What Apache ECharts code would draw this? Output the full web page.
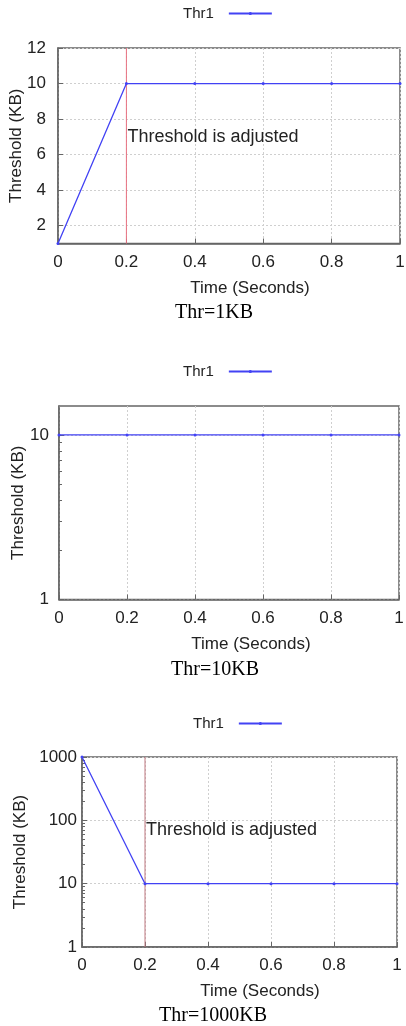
<!DOCTYPE html>
<html><head><meta charset="utf-8">
<script src="https://cdn.jsdelivr.net/npm/echarts@6/dist/echarts.min.js"></script>
<style>html,body{margin:0;padding:0;background:#fff}#c{width:406px;height:1026px}</style>
</head><body><div id="c"></div>
<script>
const timeValues = [0, 0.2, 0.4, 0.6, 0.8, 1];
const thr1KB = [1, 10, 10, 10, 10, 10];
const thr10KB = [10, 10, 10, 10, 10, 10];
const thr1000KB = [1000, 10, 10, 10, 10, 10];
const yTicks1 = [2, 4, 6, 8, 10, 12];
const yTicks2 = [1, 10];
const yTicks3 = [1, 10, 100, 1000];
const yMinor2 = [2, 3, 4, 5, 6, 7, 8, 9];
const yMinor3 = [2, 3, 4, 5, 6, 7, 8, 9, 20, 30, 40, 50, 60, 70, 80, 90, 200, 300, 400, 500, 600, 700, 800, 900];
const adjustTime = 0.2;
const annotationY = [7, null, 70];
const captions = ['Thr=1KB', 'Thr=10KB', 'Thr=1000KB'];
const seriesName = 'Thr1';
const annotationText = 'Threshold is adjusted';
const xTitle = 'Time (Seconds)';
const yTitle = 'Threshold (KB)';

const SANS = 'Liberation Sans';
const grids = [
  {left: 58, top: 48, width: 342, height: 195.5},
  {left: 59, top: 406, width: 340, height: 193.5},
  {left: 82, top: 757, width: 315, height: 190}
];
const panels = [
  {vals: thr1KB, yType: 'value', yMin: 1, yMax: 12, yTicks: yTicks1, minor: null, legendLeft: 183, legendTop: 6, yNameGap: 33, yLabelMargin: 12, mark: '#e87080', xPad: 42, cap: [214, 313]},
  {vals: thr10KB, yType: 'log', yMin: 1, yMax: 15, yTicks: yTicks2, minor: yMinor2, legendLeft: 183, legendTop: 364, yNameGap: 32, yLabelMargin: 10, mark: null, xPad: 44, cap: [215, 670]},
  {vals: thr1000KB, yType: 'log', yMin: 1, yMax: 1000, yTicks: yTicks3, minor: yMinor3, legendLeft: 193, legendTop: 716, yNameGap: 53, yLabelMargin: 5, mark: '#c07880', xPad: 41, cap: [213, 1016]}
];

const AX = '#666';
const gridLine = {show: true, lineStyle: {color: '#cfcfcf', type: [2, 2], width: 1}};
const yAxes = panels.map((p, i) => ({
  type: p.yType, gridIndex: i, min: p.yMin, max: p.yMax, logBase: 10,
  name: yTitle, nameLocation: 'middle', nameGap: p.yNameGap, nameMoveOverlap: false,
  nameTextStyle: {fontFamily: SANS, fontSize: 17, color: '#222'},
  axisLine: {show: true, lineStyle: {color: AX, width: 1.5}},
  axisTick: {show: true, inside: true, length: 5, lineStyle: {color: AX}, customValues: p.yTicks},
  axisLabel: {fontFamily: SANS, fontSize: 17, color: '#222', margin: p.yLabelMargin, customValues: p.yTicks,
    formatter: v => String(Math.round(v))},
  splitLine: gridLine
}));
panels.forEach((p, i) => {
  if (p.minor) {
    yAxes.push({
      type: 'log', gridIndex: i, min: p.yMin, max: p.yMax, logBase: 10, position: 'left',
      axisLine: {show: false}, axisLabel: {show: false}, splitLine: {show: false},
      axisTick: {show: true, inside: true, length: 3, lineStyle: {color: AX}, customValues: p.minor}
    });
  }
});

const series = [];
panels.forEach((p, i) => {
  series.push({
    name: seriesName, type: 'line', xAxisIndex: i, yAxisIndex: i, z: 3,
    data: timeValues.map((t, k) => [t, p.vals[k]]),
    symbol: 'circle', symbolSize: 3, showSymbol: true,
    color: '#4242f4', lineStyle: {width: 1.3, color: '#4242f4'}
  });
  if (p.mark) {
    series.push({
      name: 'adjust' + i, type: 'line', xAxisIndex: i, yAxisIndex: i, z: 2, silent: true,
      data: [[adjustTime, p.yMin], [adjustTime, p.yMax]],
      symbol: 'none', color: p.mark, lineStyle: {width: 1, color: p.mark},
      markPoint: {silent: true, symbol: 'circle', symbolSize: 0,
        label: {show: true, position: 'right', distance: 1, formatter: annotationText,
          fontFamily: SANS, fontSize: 18, color: '#222'},
        data: [{coord: [adjustTime, annotationY[i]]}]}
    });
  }
});

const option = {
  animation: false,
  backgroundColor: '#fff',
  grid: grids.map(g => Object.assign({show: true, borderColor: AX, borderWidth: 1.5, backgroundColor: 'transparent', containLabel: false, outerBoundsMode: 'none'}, g)),
  legend: panels.map((p, i) => ({
    left: p.legendLeft, top: p.legendTop, padding: 0, align: 'right',
    itemWidth: 43, itemHeight: 4,
    data: [seriesName],
    textStyle: {fontFamily: SANS, fontSize: 15, color: '#222', padding: [0, 10, 0, 0]}
  })),
  xAxis: panels.map((p, i) => ({
    type: 'value', gridIndex: i, min: 0, max: 1, interval: 0.2,
    name: xTitle, nameLocation: 'middle', nameGap: 36, nameMoveOverlap: false,
    nameTextStyle: {fontFamily: SANS, fontSize: 17, color: '#222', padding: [0, 0, 0, p.xPad]},
    axisLine: {show: true, lineStyle: {color: AX, width: 1.5}},
    axisTick: {show: true, inside: true, length: 5, lineStyle: {color: AX}},
    axisLabel: {fontFamily: SANS, fontSize: 17, color: '#222', margin: 10},
    splitLine: gridLine
  })),
  yAxis: yAxes,
  series: series,
  graphic: panels.map((p, i) => ({
    type: 'text', x: p.cap[0], y: p.cap[1],
    style: {text: captions[i], font: '20px "Liberation Serif"', fill: '#000', align: 'center', verticalAlign: 'middle'}
  }))
};
const chart = echarts.init(document.getElementById('c'), null, {renderer: 'canvas'});
chart.setOption(option);
</script></body></html>
